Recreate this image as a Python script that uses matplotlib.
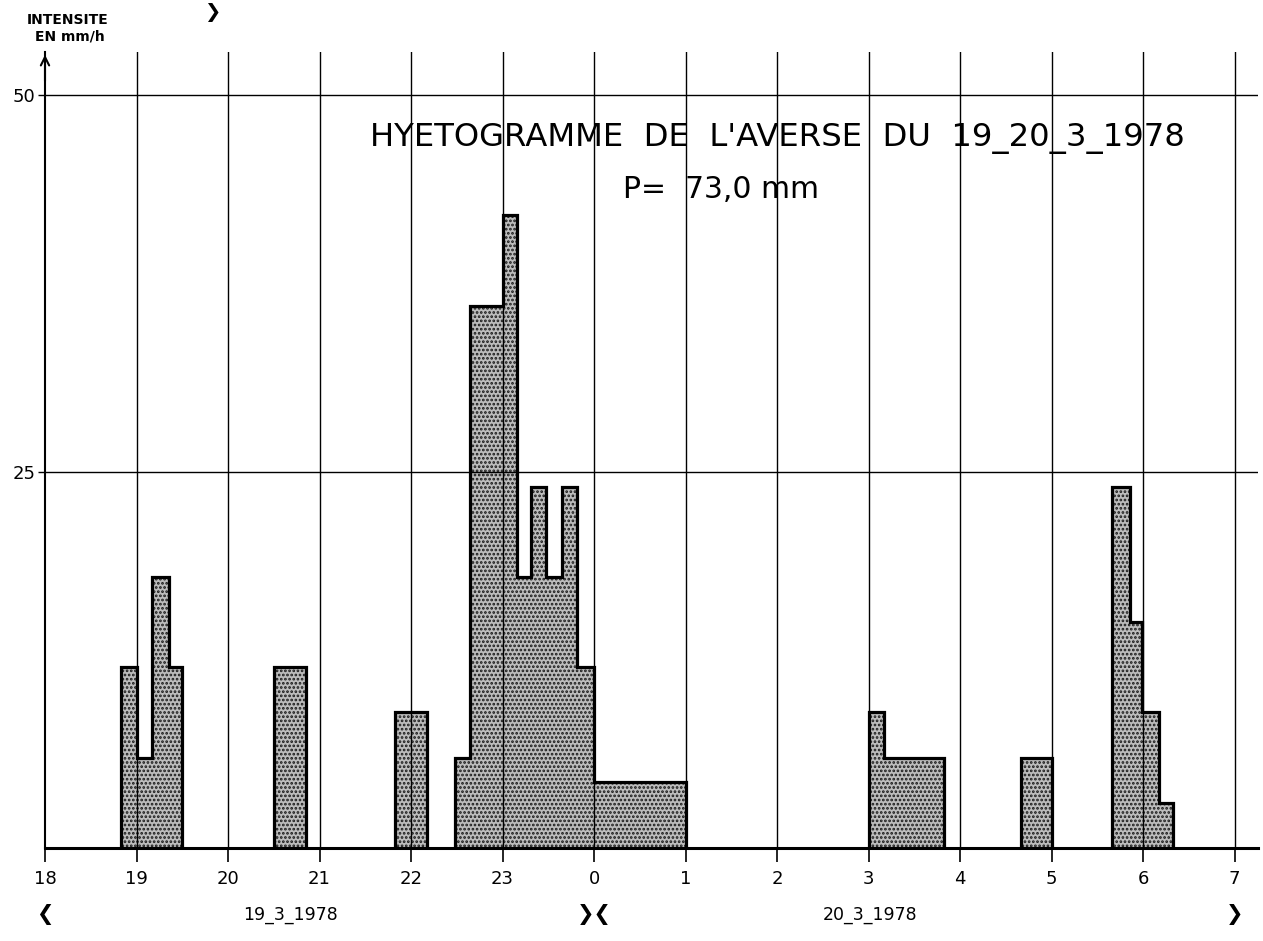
import matplotlib
matplotlib.use("Agg")
import matplotlib.pyplot as plt
import numpy as np

# ---- data (hours counted continuously from 18h on 19-3; 24 = 0h on 20-3) ----
bar_start = [18.83, 19.00, 19.17, 19.36, 20.50, 21.83, 22.48, 22.65, 23.00, 23.16, 23.31,
             23.48, 23.65, 23.81, 24.00, 27.00, 27.17, 28.67, 29.66, 29.86, 29.99, 30.17]
bar_end = [19.00, 19.17, 19.36, 19.50, 20.85, 22.17, 22.65, 23.00, 23.16, 23.31, 23.48,
           23.65, 23.81, 24.00, 25.00, 27.17, 27.82, 29.00, 29.86, 29.99, 30.17, 30.33]
intensity = [12, 6, 18, 12, 12, 9, 6, 36, 42, 18, 24, 18, 24, 12, 4.4, 9, 6, 6, 24, 15, 9, 3]

hour_ticks = list(range(18, 32))
hour_labels = ["18", "19", "20", "21", "22", "23", "0", "1", "2", "3", "4", "5", "6", "7"]
y_ticks = [25, 50]
y_labels = ["25", "50"]
day_labels = ["19_3_1978", "20_3_1978"]
day_label_pos = [20.68, 27.02]
day_marks = [18, 24, 31]

title = "HYETOGRAMME  DE  L'AVERSE  DU  19_20_3_1978"
subtitle = "P=  73,0 mm"

W, H = 1263, 941
fig = plt.figure(figsize=(W / 100, H / 100), dpi=100)
x_axis_px, right_px = 45, 1258
base_px, top_px = 848, 52
px_per_hour = 91.5
px_per_unit = 15.06
ax = fig.add_axes([x_axis_px / W, (H - base_px) / H, (right_px - x_axis_px) / W,
                   (base_px - top_px) / H])
ax.set_xlim(18, 18 + (right_px - x_axis_px) / px_per_hour)
ax.set_ylim(0, (base_px - top_px) / px_per_unit)

starts = np.array(bar_start)
ends = np.array(bar_end)
vals = np.array(intensity)

plt.rcParams['hatch.linewidth'] = 1.3
ax.bar(starts, vals, width=ends - starts, align='edge', facecolor='#bcbcbc',
       edgecolor='#1a1a1a', hatch='....', linewidth=0, zorder=1)

# outline of contiguous groups
i = 0
n = len(starts)
while i < n:
    xs = [starts[i], starts[i]]
    ys = [0, vals[i]]
    j = i
    while True:
        xs += [ends[j]]
        ys += [vals[j]]
        if j + 1 < n and abs(starts[j + 1] - ends[j]) < 1e-6:
            j += 1
            xs += [starts[j]]
            ys += [vals[j]]
        else:
            break
    xs += [ends[j]]
    ys += [0]
    ax.plot(xs, ys, color='black', lw=2.3, zorder=4, solid_joinstyle='miter')
    i = j + 1

for s in ['top', 'right']:
    ax.spines[s].set_visible(False)
ax.spines['bottom'].set_linewidth(2.2)
ax.spines['left'].set_linewidth(1.5)

ax.set_xticks(hour_ticks)
ax.set_xticklabels(hour_labels, fontsize=13)
ax.set_yticks(y_ticks)
ax.set_yticklabels(y_labels, fontsize=13)
ax.tick_params(axis='x', direction='out', length=10, width=1.2, pad=6)
ax.tick_params(axis='y', direction='out', length=5, width=1.0, pad=2)
ax.set_axisbelow(False)
ax.grid(True, color='black', lw=1.0)
ax.xaxis.get_gridlines()[0].set_visible(False)

ax.annotate('', xy=(0, 1.0), xytext=(0, 0.96), xycoords='axes fraction',
            arrowprops=dict(arrowstyle='->', lw=1.5, color='black', mutation_scale=15))

tr = ax.get_xaxis_transform()
for lab, xp in zip(day_labels, day_label_pos):
    ax.text(xp, -0.084, lab, transform=tr, ha='center', va='center', fontsize=12.5)
ax.text(day_marks[0], -0.084, "❮", transform=tr, ha='center', va='center', fontsize=15,
        fontweight='bold')
ax.text(day_marks[1], -0.084, "❯❮", transform=tr, ha='center', va='center',
        fontsize=15, fontweight='bold')
ax.text(day_marks[2], -0.084, "❯", transform=tr, ha='center', va='center', fontsize=15,
        fontweight='bold')

ax.text(26.0, 47.1, title, ha='center', va='center', fontsize=23.2)
ax.text(25.39, 43.7, subtitle, ha='center', va='center', fontsize=21.5)

fig.text(68 / W, 1 - 20 / H, "INTENSITE", ha='center', va='center', fontsize=10,
         fontweight='bold')
fig.text(70 / W, 1 - 37 / H, "EN mm/h", ha='center', va='center', fontsize=10,
         fontweight='bold')
fig.text(212 / W, 1 - 12 / H, "❯", ha='center', va='center', fontsize=14, fontweight='bold')

fig.savefig("out.png", dpi=100)
